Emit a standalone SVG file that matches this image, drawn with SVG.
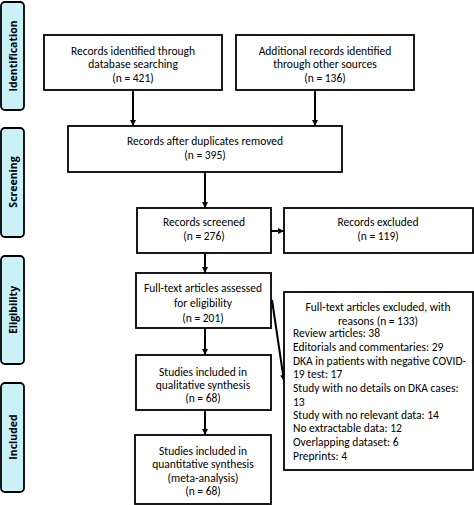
<svg xmlns="http://www.w3.org/2000/svg" width="474" height="505" viewBox="0 0 474 505">
<defs>
<style>
.box{fill:#fff;stroke:#000;stroke-width:1.8}
.side{fill:#c9f1f6;stroke:#000;stroke-width:1.8}
.t{font-family:Carlito,Lato,"Liberation Sans",sans-serif;font-size:11.5px;fill:#000}
.c{text-anchor:middle}
.s{font-family:"Open Sans","Liberation Sans",sans-serif;font-size:10.5px;font-weight:bold;text-anchor:middle;fill:#000}
.ln{stroke:#000;stroke-width:2;fill:none}
</style>
<marker id="ah" viewBox="0 0 6 6" refX="6" refY="3" markerWidth="6" markerHeight="6" markerUnits="userSpaceOnUse" orient="auto">
<path d="M0,0 L6,3 L0,6 Z" fill="#000"/>
</marker>
</defs>
<rect width="474" height="505" fill="#fff"/>
<g id="side-identification"><rect class="side" x="1" y="2" width="23" height="108" rx="4"/><text class="s" transform="translate(16.5,56) rotate(-90)">Identification</text></g>
<g id="side-screening"><rect class="side" x="1" y="128" width="23" height="109" rx="4"/><text class="s" transform="translate(16.5,182) rotate(-90)">Screening</text></g>
<g id="side-eligibility"><rect class="side" x="1" y="256" width="23" height="108" rx="4"/><text class="s" transform="translate(16.5,310) rotate(-90)">Eligibility</text></g>
<g id="side-included"><rect class="side" x="1" y="383" width="23" height="109" rx="4"/><text class="s" transform="translate(16.5,437) rotate(-90)">Included</text></g>

<g id="connectors">
<line class="ln" x1="133" y1="90" x2="133" y2="126" marker-end="url(#ah)"/>
<line class="ln" x1="315" y1="90" x2="315" y2="126" marker-end="url(#ah)"/>
<line class="ln" x1="205" y1="172" x2="205" y2="208" marker-end="url(#ah)"/>
<line class="ln" x1="271" y1="231" x2="284" y2="231" marker-end="url(#ah)"/>
<line class="ln" x1="205" y1="253" x2="205" y2="273" marker-end="url(#ah)"/>
<line class="ln" x1="205" y1="328" x2="205" y2="355" marker-end="url(#ah)"/>
<line class="ln" x1="272" y1="300" x2="284" y2="381" marker-end="url(#ah)"/>
<line class="ln" x1="205" y1="410" x2="205" y2="435" marker-end="url(#ah)"/>
</g>

<g id="n1"><rect class="box" x="44" y="35" width="178" height="55"/>
<text class="t c" x="133" y="55">Records identified through</text>
<text class="t c" x="133" y="68">database searching</text>
<text class="t c" x="133" y="82">(n = 421)</text></g>
<g id="n2"><rect class="box" x="236" y="35" width="178" height="55"/>
<text class="t c" x="325" y="55">Additional records identified</text>
<text class="t c" x="325" y="68">through other sources</text>
<text class="t c" x="325" y="82">(n = 136)</text></g>
<g id="n3"><rect class="box" x="68" y="126" width="274" height="46"/>
<text class="t c" x="205" y="145">Records after duplicates removed</text>
<text class="t c" x="205" y="159">(n = 395)</text></g>
<g id="n4"><rect class="box" x="137" y="208" width="134" height="45"/>
<text class="t c" x="204" y="226">Records screened</text>
<text class="t c" x="204" y="240">(n = 276)</text></g>
<g id="n5"><rect class="box" x="284" y="208" width="189" height="45"/>
<text class="t c" x="378" y="226">Records excluded</text>
<text class="t c" x="378" y="240">(n = 119)</text></g>
<g id="n6"><rect class="box" x="136" y="273" width="135" height="55"/>
<text class="t c" x="203" y="292">Full-text articles assessed</text>
<text class="t c" x="203" y="307">for eligibility</text>
<text class="t c" x="203" y="322">(n = 201)</text></g>
<g id="n7"><rect class="box" x="284" y="292" width="189" height="178"/>
<text class="t c" x="378" y="311">Full-text articles excluded, with</text>
<text class="t c" x="378" y="325">reasons (n = 133)</text>
<text class="t" x="293" y="337">Review articles: 38</text>
<text class="t" x="293" y="351">Editorials and commentaries: 29</text>
<text class="t" x="293" y="365">DKA in patients with negative COVID-</text>
<text class="t" x="293" y="378">19 test: 17</text>
<text class="t" x="293" y="392">Study with no details on DKA cases:</text>
<text class="t" x="293" y="406">13</text>
<text class="t" x="293" y="419">Study with no relevant data: 14</text>
<text class="t" x="293" y="432">No extractable data: 12</text>
<text class="t" x="293" y="446">Overlapping dataset: 6</text>
<text class="t" x="293" y="460">Preprints: 4</text></g>
<g id="n8"><rect class="box" x="136" y="355" width="135" height="55"/>
<text class="t c" x="203" y="376">Studies included in</text>
<text class="t c" x="203" y="389">qualitative synthesis</text>
<text class="t c" x="203" y="402">(n = 68)</text></g>
<g id="n9"><rect class="box" x="135" y="435" width="136" height="69"/>
<text class="t c" x="203" y="455">Studies included in</text>
<text class="t c" x="203" y="468">quantitative synthesis</text>
<text class="t c" x="203" y="482">(meta-analysis)</text>
<text class="t c" x="203" y="495">(n = 68)</text></g>
</svg>
